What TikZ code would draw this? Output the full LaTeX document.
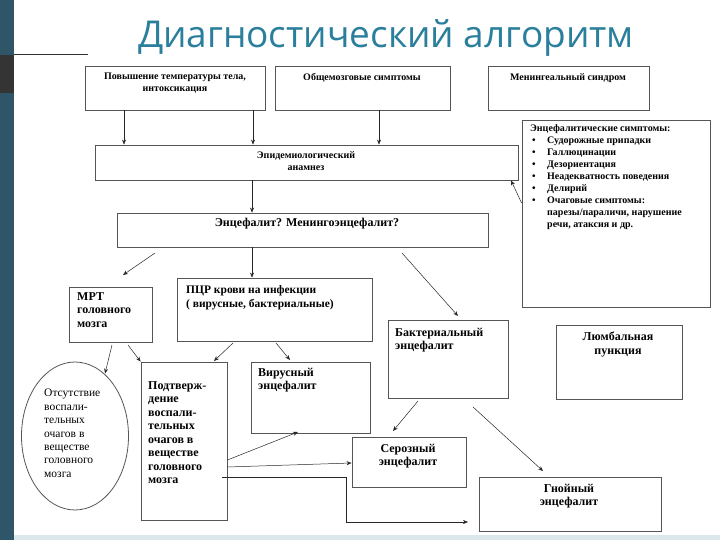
\documentclass[tikz,border=0pt]{standalone}
\usepackage{fontspec}
\setmainfont{Liberation Serif}
\newfontfamily\titlefont{Open Sans}
\usetikzlibrary{fit,arrows.meta,shapes.geometric}
\definecolor{barblue}{HTML}{2E5568}
\definecolor{bardark}{HTML}{343434}
\definecolor{titleteal}{HTML}{2A7F9C}
\definecolor{stripblue}{HTML}{DCE7EC}
\definecolor{edge}{HTML}{555555}
\begin{document}
\begin{tikzpicture}[x=1pt,y=-1pt,
  box/.style={draw=edge, line width=0.8pt, inner sep=0pt},
  arr/.style={-{Stealth[length=5pt,width=4pt]}, line width=0.5pt, draw=black!85},
  tsm/.style={font=\fontsize{10}{12}\selectfont\bfseries, align=center, inner sep=0pt, anchor=north},
  tbig/.style={font=\fontsize{12}{13.5}\selectfont\bfseries, align=center, inner sep=0pt, anchor=north},
  tbigl/.style={font=\fontsize{12}{13.5}\selectfont\bfseries, align=left, inner sep=0pt, anchor=north west},
]
\useasboundingbox (0,0) rectangle (720,540);
\fill[white] (0,0) rectangle (720,540);
\fill[barblue] (0,0) rectangle (14,540);
\fill[bardark] (0,55) rectangle (14,93);
\draw[black!80, line width=0.6pt] (14,54.5) -- (88,54.5);
\fill[stripblue] (14,535) rectangle (720,540);

\node[font=\titlefont\fontsize{37}{42}\selectfont, text=titleteal, anchor=base, inner sep=0pt] (title) at (386,48) {Диагностический алгоритм};

% boxes
\node[box, fit={(85,66)(265,110)}] (b1) {};
\node[box, fit={(275,66)(450,110)}] (b2) {};
\node[box, fit={(488,66)(649,110)}] (b3) {};
\node[box, fit={(95,145)(518,180)}] (epid) {};
\node[box, fit={(522,120)(710,307)}] (symp) {};
\node[box, fit={(117,213)(488,247)}] (enc) {};
\node[box, fit={(69,287)(152,342)}] (mrt) {};
\node[box, fit={(177,278)(372,341)}] (pcr) {};
\node[box, fit={(388,320)(508,398)}] (bact) {};
\node[box, fit={(556,325)(682,399)}] (lumb) {};
\node[box, ellipse, minimum width=107pt, minimum height=148pt] (ell) at (75,436) {};
\node[box, fit={(141,362)(227,520)}] (conf) {};
\node[box, fit={(251,362)(370,433)}] (vir) {};
\node[box, fit={(352,437)(466,487)}] (ser) {};
\node[box, fit={(479,477)(661,531)}] (pus) {};

% texts
\node[tsm] (t1) at (175,73) {Повышение температуры тела,\\интоксикация};
\node[tsm] (t2) at (362,73) {Общемозговые симптомы};
\node[tsm] (t3) at (568,73) {Менингеальный синдром};
\node[tsm] (tepid) at (306,151) {Эпидемиологический\\анамнез};
\node[tbig] (tenc) at (307,218) {Энцефалит? Менингоэнцефалит?};
\node[font=\fontsize{10}{12}\selectfont\bfseries, align=left, inner sep=0pt, anchor=north west] (tsymp) at (530,124)
 {Энцефалитические симптомы:\\
  \hspace*{2pt}\makebox[15pt][l]{\textbullet}Судорожные припадки\\
  \hspace*{2pt}\makebox[15pt][l]{\textbullet}Галлюцинации\\
  \hspace*{2pt}\makebox[15pt][l]{\textbullet}Дезориентация\\
  \hspace*{2pt}\makebox[15pt][l]{\textbullet}Неадекватность поведения\\
  \hspace*{2pt}\makebox[15pt][l]{\textbullet}Делирий\\
  \hspace*{2pt}\makebox[15pt][l]{\textbullet}Очаговые симптомы:\\
  \hspace*{17pt}парезы/параличи, нарушение\\
  \hspace*{17pt}речи, атаксия и др.};
\node[tbigl] (tmrt) at (77,292) {МРТ\\головного\\мозга};
\node[font=\fontsize{11.5}{14}\selectfont\bfseries, align=left, inner sep=0pt, anchor=north west] (tpcr) at (186,285) {ПЦР крови на инфекции\\( вирусные, бактериальные)};
\node[tbigl] (tbact) at (395,328) {Бактериальный\\энцефалит};
\node[tbig] (tlumb) at (618,332) {Люмбальная\\пункция};
\node[font=\fontsize{11.5}{13.4}\selectfont, align=left, inner sep=0pt, anchor=north west] (tell) at (44,389) {Отсутствие\\воспали-\\тельных\\очагов в\\веществе\\головного\\мозга};
\node[tbigl] (tconf) at (148,381) {Подтверж-\\дение\\воспали-\\тельных\\очагов в\\веществе\\головного\\мозга};
\node[tbigl] (tvir) at (258,368) {Вирусный\\энцефалит};
\node[tbig] (tser) at (408,444) {Серозный\\энцефалит};
\node[tbig] (tpus) at (569,484) {Гнойный\\энцефалит};

% arrows
\draw[arr] (b1.south -| 124,0) -- (epid.north -| 124,0);
\draw[arr] (b1.south -| 253,0) -- (epid.north -| 253,0);
\draw[arr] (b2.south -| 379,0) -- (epid.north -| 379,0);
\draw[arr] (epid.south -| 252,0) -- (enc.north -| 252,0);
\draw[arr] (symp.west |- 0,203) -- (epid.south -| 511,0);
\coordinate (s6) at (155,253); \coordinate (e6) at (123,275);
\draw[arr] (s6) -- (e6);
\draw[arr] (enc.south -| 252,0) -- (pcr.north -| 252,0);
\coordinate (s8) at (402,253); \coordinate (e8) at (458,316);
\draw[arr] (s8) -- (e8);
\coordinate (s9) at (112,345);
\draw[arr] (s9) -- (105,373.5);
\coordinate (s10) at (128,345);
\draw[arr] (s10) -- (conf.north west);
\coordinate (s11) at (233,343);
\draw[arr] (s11) -- (214,361);
\coordinate (s12) at (276,343);
\draw[arr] (s12) -- (290,360);
\draw[arr] (conf.east |- 0,460) -- (298,432);
\draw[arr] (conf.east |- 0,467) -- (ser.west |- 0,463);
\coordinate (s15) at (222,477); \coordinate (e15) at (468,522);
\draw[arr] (s15) -- (346,477) -- (346,522) -- (e15);
\coordinate (s16) at (418,401); \coordinate (e16) at (393,431);
\draw[arr] (s16) -- (e16);
\coordinate (s17) at (473,407); \coordinate (e17) at (543,471);
\draw[arr] (s17) -- (e17);
\end{tikzpicture}
\end{document}
